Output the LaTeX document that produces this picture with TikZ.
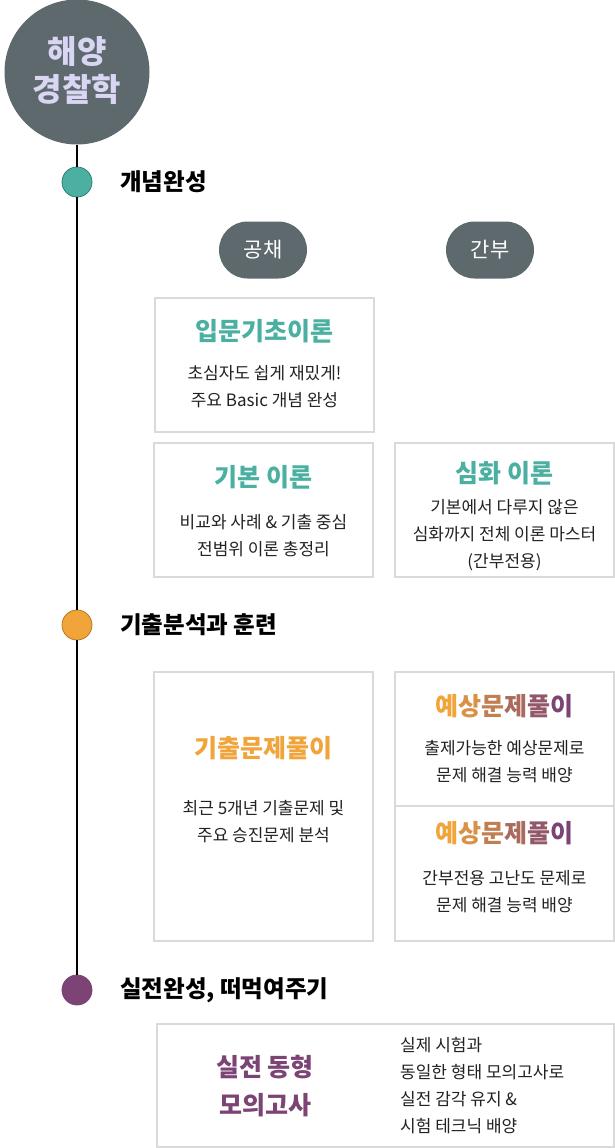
\documentclass[tikz,border=0pt]{standalone}
\usepackage{fontspec}
\setmainfont{Noto Sans CJK KR}
\definecolor{circgray}{HTML}{5E696D}
\definecolor{circtext}{HTML}{D9D6F4}
\definecolor{teal}{HTML}{4BB0A2}
\definecolor{tealdark}{HTML}{2E7F73}
\definecolor{orng}{HTML}{F0A43A}
\definecolor{orngdark}{HTML}{B47A22}
\definecolor{purp}{HTML}{7B4474}
\definecolor{boxline}{HTML}{DADADA}
\definecolor{desc}{HTML}{222222}
\newcommand{\gradtitle}{{\color{orng}예}{\color{purp!20!orng}상}{\color{purp!40!orng}문}{\color{purp!60!orng}제}{\color{purp!80!orng}풀}{\color{purp}이}}
\tikzset{
  cardbox/.style={draw=boxline, line width=1.3pt, fill=white},
  cardtitle/.style={font=\fontsize{25}{29}\selectfont\bfseries, anchor=center, inner sep=0pt},
  carddesc/.style={font=\fontsize{17}{27}\selectfont, text=desc, align=center, anchor=center, inner sep=0pt},
  dotnode/.style={circle, minimum size=30pt, inner sep=0pt, line width=0.8pt},
  phaselabel/.style={font=\fontsize{23.5}{26}\selectfont\bfseries, anchor=west, inner sep=0pt},
  pillnode/.style={rounded corners=28.5pt, fill=circgray, text=white, minimum width=88pt, minimum height=57pt, inner sep=0pt, font=\fontsize{21}{24}\selectfont}
}
\begin{document}
\begin{tikzpicture}[x=1pt,y=-1pt]
\useasboundingbox (0,0) rectangle (615,1148);
% timeline nodes
\node[circle, fill=circgray, minimum size=145pt, inner sep=0pt] (main) at (77,72) {};
\node[dotnode, fill=teal, draw=tealdark] (d1) at (77,182) {};
\node[dotnode, fill=orng, draw=orngdark] (d2) at (77,625) {};
\node[dotnode, fill=purp, draw=purp] (d3) at (77,990) {};
\draw[line width=2pt] (main.south) -- (d1.north);
\draw[line width=2pt] (d1.south) -- (d2.north);
\draw[line width=2pt] (d2.south) -- (d3.north);
\node[font=\fontsize{32}{38}\selectfont\bfseries, text=circtext, align=center, inner sep=0pt] (maintext) at (77,71) {해양\\경찰학};
% phase labels
\node[phaselabel] (l1) at (120,182) {개념완성};
\node[phaselabel] (l2) at (120,625) {기출분석과 훈련};
\node[phaselabel] (l3) at (120,990) {실전완성, 떠먹여주기};
% pills
\node[pillnode] (p1) at (263,250) {공채};
\node[pillnode] (p2) at (490,250) {간부};
% boxes
\draw[cardbox] (155,298) rectangle (374,432);
\node[cardtitle, text=teal] (ta) at (264.5,331) {입문기초이론};
\node[carddesc] (da) at (264.5,386.5) {초심자도 쉽게 재밌게!\\주요 Basic 개념 완성};

\draw[cardbox] (154,443) rectangle (373,577);
\node[cardtitle, text=teal] (tb) at (263.5,477) {기본 이론};
\node[carddesc] (db) at (263.5,535.5) {비교와 사례 \& 기출 중심\\전범위 이론 총정리};

\draw[cardbox] (395,443) rectangle (614,577);
\node[cardtitle, text=teal] (tc) at (504.5,473) {심화 이론};
\node[carddesc] (dc) at (504.5,535.5) {기본에서 다루지 않은\\심화까지 전체 이론 마스터\\(간부전용)};

\draw[cardbox] (154,672) rectangle (373,941);
\node[cardtitle, text=orng] (td) at (263.5,748) {기출문제풀이};
\node[carddesc] (dd) at (263.5,822) {최근 5개년 기출문제 및\\주요 승진문제 분석};

\draw[cardbox] (395,672) rectangle (614,806);
\node[cardtitle] (te) at (504.5,706) {\gradtitle};
\node[carddesc] (de) at (504.5,761.5) {출제가능한 예상문제로\\문제 해결 능력 배양};

\draw[cardbox] (395,806) rectangle (614,941);
\node[cardtitle] (tf) at (504.5,833) {\gradtitle};
\node[carddesc] (df) at (504.5,891.5) {간부전용 고난도 문제로\\문제 해결 능력 배양};

\draw[cardbox] (157,1024) rectangle (614,1147);
\node[cardtitle, text=purp, align=center, font=\fontsize{25}{38}\selectfont\bfseries] (tg) at (265,1086) {실전 동형\\모의고사};
\node[carddesc, align=left, anchor=west] (dg) at (400,1086) {실제 시험과\\동일한 형태 모의고사로\\실전 감각 유지 \&\\시험 테크닉 배양};
\end{tikzpicture}
\end{document}
